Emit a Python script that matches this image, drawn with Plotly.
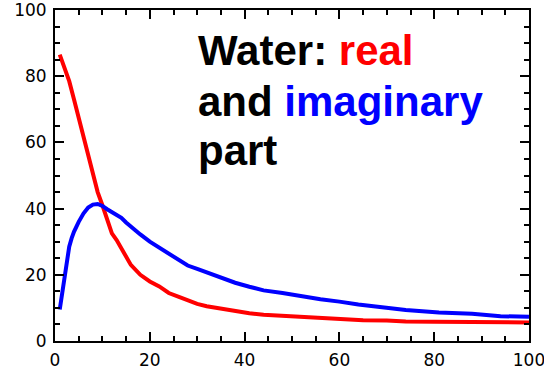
import plotly.graph_objects as go

# Real part (red)
x_real = [1, 2, 3, 4, 5, 6, 7, 8, 9, 10, 11, 12, 13, 14, 15, 16, 18, 20, 22, 24,
          26, 28, 30, 32, 35, 38, 41, 44, 48, 52, 56, 60, 65, 70, 74, 80, 90, 100]
y_real = [86.5, 82.5, 78.5, 73, 67.5, 61.5, 56, 50, 45, 41, 36.5, 32.5, 30.5, 28, 25.5, 23,
          20, 18, 16.5, 14.5, 13.4, 12.2, 11.2, 10.5, 9.7, 9, 8.4, 7.9, 7.6, 7.3, 7, 6.6,
          6.3, 6.2, 5.9, 5.8, 5.7, 5.6]

# Imaginary part (blue)
x_imag = [1, 1.5, 2, 2.5, 3, 3.5, 4, 5, 6, 7, 8, 9, 10, 11, 12, 13, 14, 15, 16, 17, 18,
          20, 22, 24, 26, 28, 30, 32, 35, 38, 41, 44, 48, 52, 56, 60, 64, 69, 74, 81,
          88, 94, 100]
y_imag = [9.5, 14, 19, 23.5, 28.5, 31, 33, 36, 38.5, 40.3, 41.2, 41.4, 40.8, 39.8, 39,
          38, 37.2, 35.8, 34.5, 33.3, 32.2, 30, 28.2, 26.2, 24.5, 22.8, 21.8, 20.8, 19,
          17.6, 16.4, 15.3, 14.5, 13.4, 12.6, 11.9, 11, 10.2, 9.4, 8.6, 8.2, 7.5, 7.3]

x_ticks = [0, 20, 40, 60, 80, 100]
y_ticks = [0, 20, 40, 60, 80, 100]

title_lines = [
    "<b>Water: <span style='color:#ff0000'>real</span></b>",
    "<b>and <span style='color:#0000ff'>imaginary</span></b>",
    "<b>part</b>",
]

fig = go.Figure()
fig.add_trace(go.Scatter(x=x_real, y=y_real, mode="lines",
                         line=dict(color="#ff0000", width=4), showlegend=False))
fig.add_trace(go.Scatter(x=x_imag, y=y_imag, mode="lines",
                         line=dict(color="#0000ff", width=4), showlegend=False))

axis_common = dict(
    showgrid=False, zeroline=False, showline=True, linecolor="black", linewidth=2,
    mirror="ticks", ticks="inside", ticklen=9, tickwidth=2, tickcolor="black",
    tickfont=dict(family="DejaVu Sans", size=17, color="black"),
    ticklabeloverflow="allow", automargin=False,
)
fig.update_xaxes(range=[0, 100], tickvals=x_ticks, ticktext=[str(v) for v in x_ticks],
                 minor=dict(dtick=5, ticks="inside", ticklen=5, tickwidth=2, tickcolor="black"),
                 ticklabelstandoff=3, **axis_common)
fig.update_yaxes(range=[0, 100], tickvals=y_ticks, ticktext=[str(v) for v in y_ticks],
                 minor=dict(dtick=5, ticks="inside", ticklen=5, tickwidth=2, tickcolor="black"),
                 ticklabelstandoff=3, **axis_common)

# plot area: top 10px, height 331px
line_centers_px = [50, 101, 150]
for txt, cy in zip(title_lines, line_centers_px):
    fig.add_annotation(
        xref="paper", yref="paper", x=(196 - 55) / 474, y=1 - (cy - 10) / 331,
        xanchor="left", yanchor="middle", align="left", showarrow=False,
        text=txt, font=dict(family="Liberation Sans", size=42, color="black"),
    )

fig.update_layout(
    width=544, height=381, margin=dict(l=55, r=15, t=10, b=40),
    plot_bgcolor="white", paper_bgcolor="white",
)

fig.write_html("out.html")
